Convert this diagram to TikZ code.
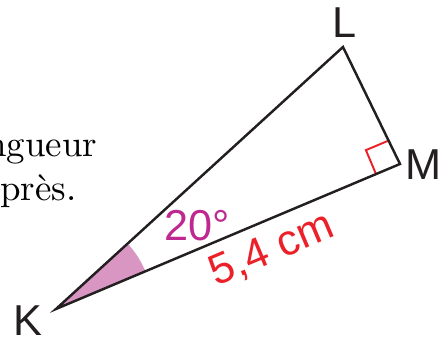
\documentclass[tikz,border=0pt]{standalone}
\usepackage{fontspec}
\setsansfont{Liberation Sans}
\usetikzlibrary{calc}
\definecolor{trait}{RGB}{35,31,32}
\definecolor{rouge}{RGB}{236,32,40}
\definecolor{magenta}{RGB}{190,40,145}
\definecolor{rose}{RGB}{217,150,195}
\tikzset{
  lettre/.style={font=\sffamily\fontsize{12.3}{14}\selectfont,text=trait},
  mesure/.style={font=\sffamily\fontsize{12.3}{14}\selectfont,inner sep=0pt},
  texte/.style={font=\fontsize{10.5}{12}\selectfont,inner sep=0pt}
}
\begin{document}
\begin{tikzpicture}[x=0.01cm,y=-0.01cm]
	  \useasboundingbox (0,0) rectangle (441,343);
	  \coordinate (K) at (56,309);
	  \coordinate (L) at (343,47);
	  \coordinate (M) at (400,164);
	  \fill[rose] (K) -- ($(K)!0.97cm!(M)$) arc[start angle=22.9,end angle=42.4,radius=0.97cm] -- cycle;
	  \draw[rouge,line width=0.55pt] ($(M)!0.26cm!(K)$) -- ($(M)!0.26cm!(K)!0.26cm!90:(M)$) -- ($(M)!0.26cm!(L)$);
	  \draw[trait,line width=0.7pt,line join=miter] (K) -- (L) -- (M) -- cycle;
	  \node[lettre] (nK) at (28,321) {K};
	  \node[lettre] (nL) at (345,23) {L};
	  \node[lettre] (nM) at (424,165) {M};
	  \node[mesure,text=magenta] (angle) at (197,226) {20°};
	  \node[mesure,text=rouge,rotate=22.9] (long) at (272,250) {5,4 cm};
	  \node[texte,anchor=base east] (t1) at (98,157) {ngueur};
	  \node[texte,anchor=base east] (t2) at (77,201) {près.};
\end{tikzpicture}
\end{document}
